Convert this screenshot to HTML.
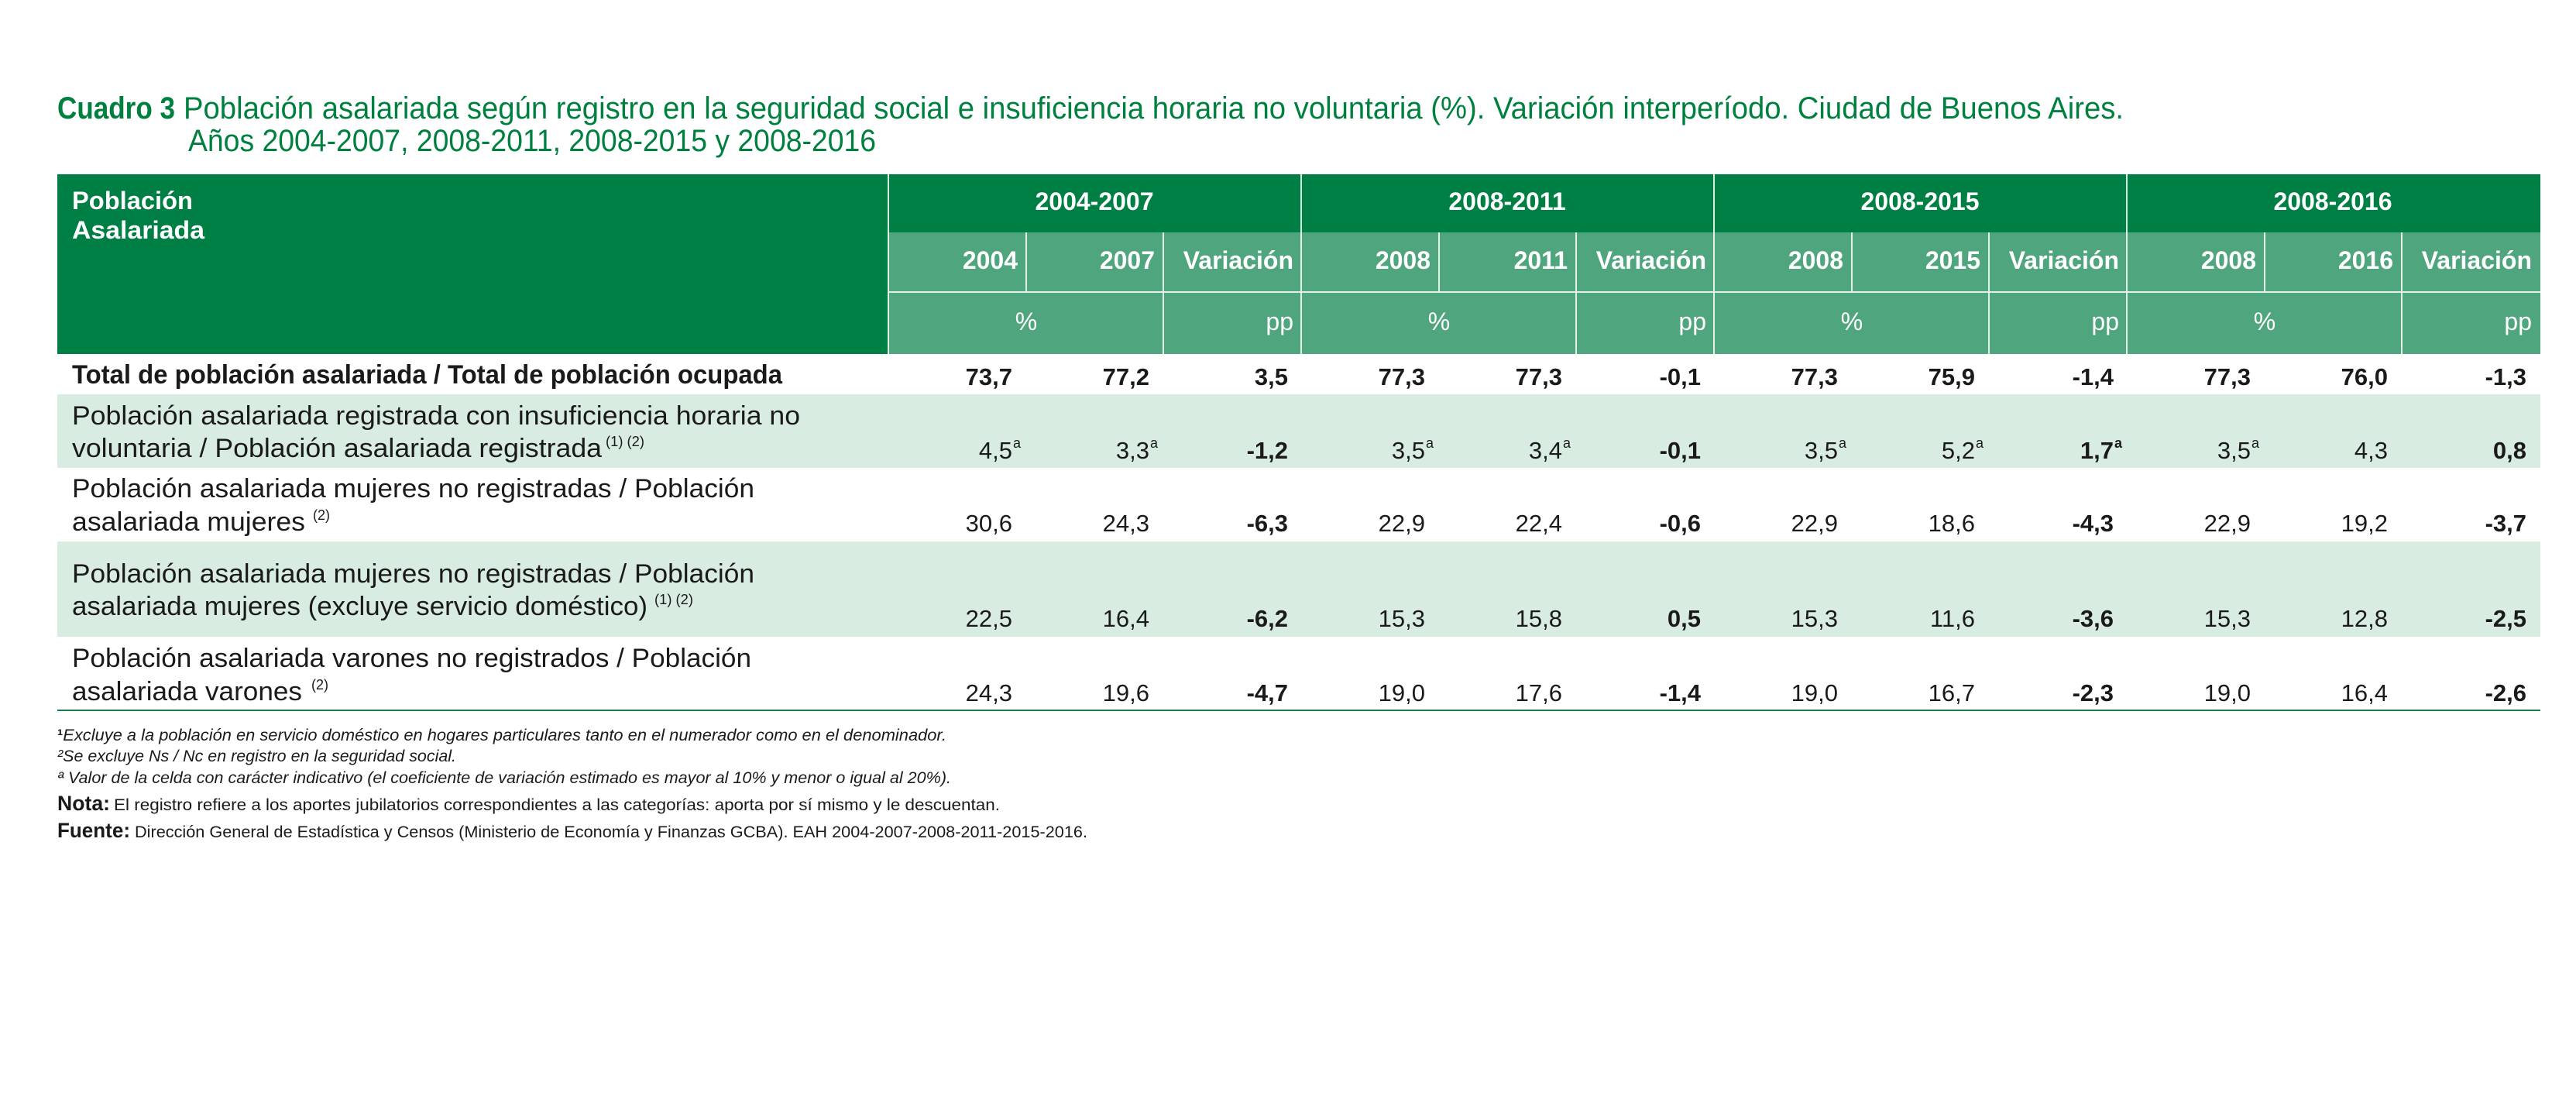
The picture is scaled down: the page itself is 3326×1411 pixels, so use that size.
<!DOCTYPE html>
<html><head><meta charset="utf-8"><style>
html,body{margin:0;padding:0;background:#fff;}
svg{display:block;font-family:"Liberation Sans",sans-serif;}
</style></head><body>
<svg width="3326" height="1411" viewBox="0 0 3326 1411" xmlns="http://www.w3.org/2000/svg">
<rect width="3326" height="1411" fill="#fff"/>
<!-- Title -->
<g fill="#00803f" font-size="40">
<text x="74" y="153" font-weight="bold" textLength="152" lengthAdjust="spacingAndGlyphs">Cuadro 3</text>
<text x="237" y="153" textLength="2505" lengthAdjust="spacingAndGlyphs">Población asalariada según registro en la seguridad social e insuficiencia horaria no voluntaria (%). Variación interperíodo. Ciudad de Buenos Aires.</text>
<text x="243" y="195" textLength="888" lengthAdjust="spacingAndGlyphs">Años 2004-2007, 2008-2011, 2008-2015 y 2008-2016</text>
</g>
<!-- Header backgrounds -->
<rect x="74" y="225" width="3206" height="232" fill="#007f45"/>
<rect x="1147" y="300" width="2133" height="157" fill="#4fa57d"/>
<!-- header lines -->
<g stroke="#ffffff" stroke-width="2" opacity="0.85">
<line x1="1147" y1="225" x2="1147" y2="457"/>
<line x1="1680" y1="225" x2="1680" y2="457"/>
<line x1="2213" y1="225" x2="2213" y2="457"/>
<line x1="2746" y1="225" x2="2746" y2="457"/>
<line x1="1147" y1="377" x2="3280" y2="377"/>
<line x1="1325" y1="300" x2="1325" y2="377"/><line x1="1502" y1="300" x2="1502" y2="457"/>
<line x1="1858" y1="300" x2="1858" y2="377"/><line x1="2035" y1="300" x2="2035" y2="457"/>
<line x1="2391" y1="300" x2="2391" y2="377"/><line x1="2568" y1="300" x2="2568" y2="457"/>
<line x1="2924" y1="300" x2="2924" y2="377"/><line x1="3101" y1="300" x2="3101" y2="457"/>
</g>
<g fill="#fff" font-size="32" font-weight="bold">
<text x="93" y="270" textLength="156" lengthAdjust="spacingAndGlyphs">Población</text>
<text x="93" y="308" textLength="171" lengthAdjust="spacingAndGlyphs">Asalariada</text>
<g text-anchor="middle">
<text x="1413" y="271">2004-2007</text>
<text x="1946" y="271">2008-2011</text>
<text x="2479" y="271">2008-2015</text>
<text x="3012" y="271">2008-2016</text>
</g>
<g text-anchor="end">
<text x="1314" y="347">2004</text><text x="1491" y="347">2007</text><text x="1670" y="347">Variación</text>
<text x="1847" y="347">2008</text><text x="2024" y="347">2011</text><text x="2203" y="347">Variación</text>
<text x="2380" y="347">2008</text><text x="2557" y="347">2015</text><text x="2736" y="347">Variación</text>
<text x="2913" y="347">2008</text><text x="3090" y="347">2016</text><text x="3269" y="347">Variación</text>
<text x="1670" y="426" font-weight="normal">pp</text>
<text x="2203" y="426" font-weight="normal">pp</text>
<text x="2736" y="426" font-weight="normal">pp</text>
<text x="3269" y="426" font-weight="normal">pp</text>
</g>
<g text-anchor="middle" font-weight="normal">
<text x="1325" y="426">%</text><text x="1858" y="426">%</text><text x="2391" y="426">%</text><text x="2924" y="426">%</text>
</g>
</g>
<!-- Body rows -->
<rect x="74" y="509" width="3206" height="95" fill="#d9ece2"/>
<rect x="74" y="699" width="3206" height="123" fill="#d9ece2"/>
<line x1="74" y1="917" x2="3280" y2="917" stroke="#1f7a4a" stroke-width="2"/>
<g fill="#1a1a1a" font-size="34">
<text x="93" y="495" font-weight="bold" textLength="917" lengthAdjust="spacingAndGlyphs">Total de población asalariada / Total de población ocupada</text>
<text x="93" y="548" textLength="940" lengthAdjust="spacingAndGlyphs">Población asalariada registrada con insuficiencia horaria no</text>
<text x="93" y="590" textLength="684" lengthAdjust="spacingAndGlyphs">voluntaria / Población asalariada registrada</text>
<text x="782" y="576" font-size="18" textLength="50" lengthAdjust="spacingAndGlyphs">(1) (2)</text>
<text x="93" y="642" textLength="881" lengthAdjust="spacingAndGlyphs">Población asalariada mujeres no registradas / Población</text>
<text x="93" y="685" textLength="301" lengthAdjust="spacingAndGlyphs">asalariada mujeres</text>
<text x="404" y="671" font-size="18">(2)</text>
<text x="93" y="752" textLength="881" lengthAdjust="spacingAndGlyphs">Población asalariada mujeres no registradas / Población</text>
<text x="93" y="794" textLength="743" lengthAdjust="spacingAndGlyphs">asalariada mujeres (excluye servicio doméstico)</text>
<text x="845" y="780" font-size="18" textLength="50" lengthAdjust="spacingAndGlyphs">(1) (2)</text>
<text x="93" y="861" textLength="877" lengthAdjust="spacingAndGlyphs">Población asalariada varones no registrados / Población</text>
<text x="93" y="904" textLength="297" lengthAdjust="spacingAndGlyphs">asalariada varones</text>
<text x="402" y="890" font-size="18">(2)</text>
</g>
<g fill="#1a1a1a" font-size="31" text-anchor="end">
<!-- total row -->
<g font-weight="bold">
<text x="1307" y="497">73,7</text><text x="1484" y="497">77,2</text><text x="1663" y="497">3,5</text>
<text x="1840" y="497">77,3</text><text x="2017" y="497">77,3</text><text x="2196" y="497">-0,1</text>
<text x="2373" y="497">77,3</text><text x="2550" y="497">75,9</text><text x="2729" y="497">-1,4</text>
<text x="2906" y="497">77,3</text><text x="3083" y="497">76,0</text><text x="3262" y="497">-1,3</text>
</g>
<!-- row 2 -->
<text x="1307" y="592">4,5</text><text x="1484" y="592">3,3</text><text x="1663" y="592" font-weight="bold">-1,2</text>
<text x="1840" y="592">3,5</text><text x="2017" y="592">3,4</text><text x="2196" y="592" font-weight="bold">-0,1</text>
<text x="2373" y="592">3,5</text><text x="2550" y="592">5,2</text><text x="2729" y="592" font-weight="bold">1,7</text>
<text x="2906" y="592">3,5</text><text x="3083" y="592">4,3</text><text x="3262" y="592" font-weight="bold">0,8</text>
<!-- row 3 -->
<text x="1307" y="686">30,6</text><text x="1484" y="686">24,3</text><text x="1663" y="686" font-weight="bold">-6,3</text>
<text x="1840" y="686">22,9</text><text x="2017" y="686">22,4</text><text x="2196" y="686" font-weight="bold">-0,6</text>
<text x="2373" y="686">22,9</text><text x="2550" y="686">18,6</text><text x="2729" y="686" font-weight="bold">-4,3</text>
<text x="2906" y="686">22,9</text><text x="3083" y="686">19,2</text><text x="3262" y="686" font-weight="bold">-3,7</text>
<!-- row 4 -->
<text x="1307" y="809">22,5</text><text x="1484" y="809">16,4</text><text x="1663" y="809" font-weight="bold">-6,2</text>
<text x="1840" y="809">15,3</text><text x="2017" y="809">15,8</text><text x="2196" y="809" font-weight="bold">0,5</text>
<text x="2373" y="809">15,3</text><text x="2550" y="809">11,6</text><text x="2729" y="809" font-weight="bold">-3,6</text>
<text x="2906" y="809">15,3</text><text x="3083" y="809">12,8</text><text x="3262" y="809" font-weight="bold">-2,5</text>
<!-- row 5 -->
<text x="1307" y="905">24,3</text><text x="1484" y="905">19,6</text><text x="1663" y="905" font-weight="bold">-4,7</text>
<text x="1840" y="905">19,0</text><text x="2017" y="905">17,6</text><text x="2196" y="905" font-weight="bold">-1,4</text>
<text x="2373" y="905">19,0</text><text x="2550" y="905">16,7</text><text x="2729" y="905" font-weight="bold">-2,3</text>
<text x="2906" y="905">19,0</text><text x="3083" y="905">16,4</text><text x="3262" y="905" font-weight="bold">-2,6</text>
</g>
<g fill="#1a1a1a" font-size="18">
<text x="1308" y="578">a</text><text x="1485" y="578">a</text>
<text x="1841" y="578">a</text><text x="2018" y="578">a</text>
<text x="2374" y="578">a</text><text x="2551" y="578">a</text><text x="2730" y="578" font-weight="bold">a</text>
<text x="2907" y="578">a</text>
</g>
<!-- Footnotes -->
<g fill="#1a1a1a" font-size="21">
<text x="74" y="956" font-style="italic" textLength="1148" lengthAdjust="spacingAndGlyphs"><tspan font-weight="bold" font-style="normal">¹</tspan>Excluye a la población en servicio doméstico en hogares particulares tanto en el numerador como en el denominador.</text>
<text x="74" y="983" font-style="italic" textLength="515" lengthAdjust="spacingAndGlyphs">²Se excluye Ns / Nc en registro en la seguridad social.</text>
<text x="74" y="1011" font-style="italic" textLength="1154" lengthAdjust="spacingAndGlyphs">ª Valor de la celda con carácter indicativo (el coeficiente de variación estimado es mayor al 10% y menor o igual al 20%).</text>
<text x="74" y="1046" font-size="27" font-weight="bold" textLength="68" lengthAdjust="spacingAndGlyphs">Nota:</text>
<text x="147" y="1046" textLength="1144" lengthAdjust="spacingAndGlyphs">El registro refiere a los aportes jubilatorios correspondientes a las categorías: aporta por sí mismo y le descuentan.</text>
<text x="74" y="1081" font-size="27" font-weight="bold" textLength="94" lengthAdjust="spacingAndGlyphs">Fuente:</text>
<text x="174" y="1081" textLength="1230" lengthAdjust="spacingAndGlyphs">Dirección General de Estadística y Censos (Ministerio de Economía y Finanzas GCBA). EAH 2004-2007-2008-2011-2015-2016.</text>
</g>
</svg>
</body></html>
